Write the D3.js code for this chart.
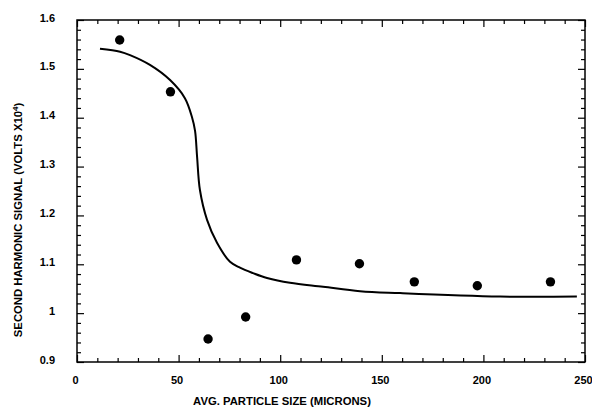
<!DOCTYPE html>
<html>
<head>
<meta charset="utf-8">
<script src="https://cdn.jsdelivr.net/npm/d3@7"></script>
<style>
  html, body { margin: 0; padding: 0; background: #fff; }
  svg text { font-family: "Liberation Sans", Arial, Helvetica, sans-serif; font-weight: bold; fill: #000; }
</style>
</head>
<body>
<svg id="chart"></svg>
<script>
// ── Data ──────────────────────────────────────────────────────────────────────
const sizeMeasured   = [21, 46, 64.5, 83, 108, 139, 166, 197, 233];
const signalMeasured = [1.559, 1.453, 0.947, 0.992, 1.109, 1.101, 1.064, 1.056, 1.064];

const sizeFit   = [11.3, 21.2, 26.1, 35.9, 45.8, 53.1, 56.6, 58.1, 59.1, 60.5, 64, 68.9, 75.3, 80.2, 86.6, 93.5, 104.8, 121.1, 139.3, 159, 208.2, 246];
const signalFit = [1.541, 1.535, 1.528, 1.508, 1.477, 1.44, 1.401, 1.373, 1.32, 1.252, 1.191, 1.144, 1.105, 1.093, 1.082, 1.072, 1.062, 1.054, 1.045, 1.041, 1.034, 1.034];

const xMajorTicks = [0, 50, 100, 150, 200, 250];
const yMajorTicks = [0.9, 1, 1.1, 1.2, 1.3, 1.4, 1.5, 1.6];
const yTickLabels = ['0.9', '1', '1.1', '1.2', '1.3', '1.4', '1.5', '1.6'];

const W = 592, H = 408;
const svg = d3.select('#chart').attr('width', W).attr('height', H);

const x = d3.scaleLinear().domain([0, 250]).range([77, 585]);
const y = d3.scaleLinear().domain([0.9, 1.6]).range([362, 20]);

const xMinor = d3.range(0, 251, 10).filter(v => v % 50 !== 0);
const yMinor = d3.range(0, 36).map(i => +(0.9 + i * 0.02).toFixed(2)).filter(v => Math.abs(v * 10 - Math.round(v * 10)) > 1e-6);

// ── Ticks (inward, all four sides) ───────────────────────────────────────────
const MAJ = 7, MIN = 4;
function tickAxis(axis, tr) {
    const g = svg.append('g').attr('transform', tr).call(axis);
    g.select('.domain').remove();
    g.selectAll('line').attr('stroke', '#000').attr('stroke-width', 1.2);
    return g;
}
const trBottom = `translate(0,${y(0.9)})`, trTop = `translate(0,${y(1.6)})`;
const trLeft = `translate(${x(0)},0)`, trRight = `translate(${x(250)},0)`;

const gx = tickAxis(d3.axisBottom(x).tickValues(xMajorTicks).tickSize(-MAJ).tickPadding(14).tickFormat(d3.format('d')), trBottom);
gx.selectAll('text').attr('font-size', 11).attr('dx', -2).attr('font-family', null);
tickAxis(d3.axisBottom(x).tickValues(xMinor).tickSize(-MIN).tickFormat(''), trBottom);
tickAxis(d3.axisTop(x).tickValues(xMajorTicks).tickSize(-MAJ).tickFormat(''), trTop);
tickAxis(d3.axisTop(x).tickValues(xMinor).tickSize(-MIN).tickFormat(''), trTop);

const gy = tickAxis(d3.axisLeft(y).tickValues(yMajorTicks).tickSize(-MAJ).tickPadding(22).tickFormat((d, i) => yTickLabels[i]), trLeft);
gy.selectAll('text').attr('font-size', 11).attr('dy', '0.1em').attr('font-family', null);
tickAxis(d3.axisLeft(y).tickValues(yMinor).tickSize(-MIN).tickFormat(''), trLeft);
tickAxis(d3.axisRight(y).tickValues(yMajorTicks).tickSize(-MAJ).tickFormat(''), trRight);
tickAxis(d3.axisRight(y).tickValues(yMinor).tickSize(-MIN).tickFormat(''), trRight);

// frame
svg.append('rect')
    .attr('x', x(0)).attr('y', y(1.6))
    .attr('width', x(250) - x(0)).attr('height', y(0.9) - y(1.6))
    .attr('fill', 'none').attr('stroke', '#000').attr('stroke-width', 1.5);

// ── Fitted curve ─────────────────────────────────────────────────────────────
const fit = sizeFit.map((d, i) => [d, signalFit[i]]);
svg.append('path')
    .datum(fit)
    .attr('fill', 'none').attr('stroke', '#000').attr('stroke-width', 2)
    .attr('d', d3.line().x(d => x(d[0])).y(d => y(d[1])).curve(d3.curveCatmullRom.alpha(0.5)));

// ── Measured points ──────────────────────────────────────────────────────────
svg.append('g').selectAll('circle')
    .data(sizeMeasured.map((d, i) => [d, signalMeasured[i]]))
    .join('circle')
    .attr('cx', d => x(d[0])).attr('cy', d => y(d[1])).attr('r', 4.7)
    .attr('fill', '#000');

// ── Axis titles ──────────────────────────────────────────────────────────────
svg.append('text')
    .attr('x', 282).attr('y', 405)
    .attr('text-anchor', 'middle').attr('font-size', 11.3)
    .text('AVG. PARTICLE SIZE (MICRONS)');

const yt = svg.append('text')
    .attr('transform', 'translate(22,220) rotate(-90)')
    .attr('text-anchor', 'middle').attr('font-size', 11.3);
yt.append('tspan').text('SECOND HARMONIC SIGNAL (VOLTS X10');
yt.append('tspan').attr('font-size', 8).attr('dy', -4).text('4');
yt.append('tspan').attr('dy', 4).text(')');
</script>
</body>
</html>
